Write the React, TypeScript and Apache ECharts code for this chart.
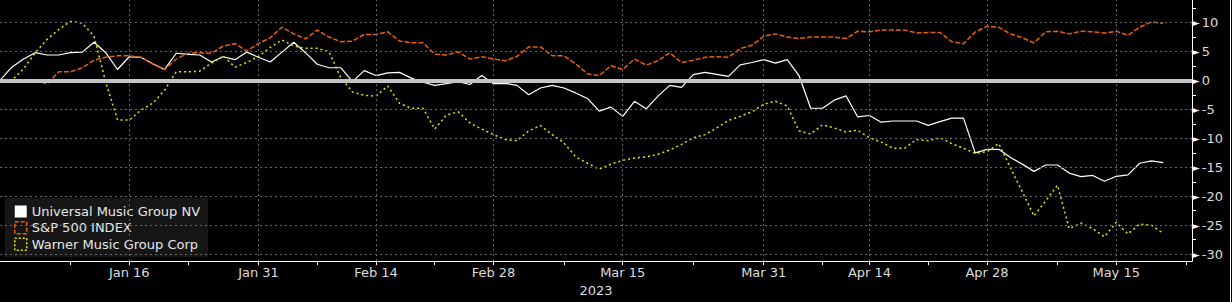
import React, { useEffect, useRef } from "react";
import * as echarts from "echarts";

// Trading days shown on the axis (weekdays, Good Friday excluded)
const dates: string[] = [
  "2022-12-30",
  "2023-01-02", "2023-01-03", "2023-01-04", "2023-01-05", "2023-01-06",
  "2023-01-09", "2023-01-10", "2023-01-11", "2023-01-12", "2023-01-13",
  "2023-01-16", "2023-01-17", "2023-01-18", "2023-01-19", "2023-01-20",
  "2023-01-23", "2023-01-24", "2023-01-25", "2023-01-26", "2023-01-27",
  "2023-01-30", "2023-01-31", "2023-02-01", "2023-02-02", "2023-02-03",
  "2023-02-06", "2023-02-07", "2023-02-08", "2023-02-09", "2023-02-10",
  "2023-02-13", "2023-02-14", "2023-02-15", "2023-02-16", "2023-02-17",
  "2023-02-20", "2023-02-21", "2023-02-22", "2023-02-23", "2023-02-24",
  "2023-02-27", "2023-02-28", "2023-03-01", "2023-03-02", "2023-03-03",
  "2023-03-06", "2023-03-07", "2023-03-08", "2023-03-09", "2023-03-10",
  "2023-03-13", "2023-03-14", "2023-03-15", "2023-03-16", "2023-03-17",
  "2023-03-20", "2023-03-21", "2023-03-22", "2023-03-23", "2023-03-24",
  "2023-03-27", "2023-03-28", "2023-03-29", "2023-03-30", "2023-03-31",
  "2023-04-03", "2023-04-04", "2023-04-05", "2023-04-06",
  "2023-04-10", "2023-04-11", "2023-04-12", "2023-04-13", "2023-04-14",
  "2023-04-17", "2023-04-18", "2023-04-19", "2023-04-20", "2023-04-21",
  "2023-04-24", "2023-04-25", "2023-04-26", "2023-04-27", "2023-04-28",
  "2023-05-01", "2023-05-02", "2023-05-03", "2023-05-04", "2023-05-05",
  "2023-05-08", "2023-05-09", "2023-05-10", "2023-05-11", "2023-05-12",
  "2023-05-15", "2023-05-16", "2023-05-17", "2023-05-18", "2023-05-19",
  "2023-05-22", "2023-05-23",
];

const seriesNames = ["Universal Music Group NV", "S&P 500 INDEX", "Warner Music Group Corp"];

// % change since start
const umg: number[] = [
  0, 2.3, 3.7, 4.8, 4.4, 4.4, 4.8, 4.9, 6.6, 4.8,
  1.9, 4.1, 4.0, 2.9, 1.9, 4.7, 4.5, 4.4, 3.2, 4.1,
  3.6, 4.9, 4.0, 3.2, 4.9, 6.6, 4.8, 2.8, 2.2, 2.2,
  -0.2, 1.7, 0.85, 1.3, 1.4, 0.4, -0.3, -0.85, -0.55, -0.2,
  -0.7, 0.85, -0.55, -0.5, -0.85, -2.45, -1.3, -0.85, -1.3, -2.15,
  -3.1, -5.3, -4.6, -6.2, -3.6, -4.9, -2.7, -0.85, -1.2, 1.0,
  1.4, 1.05, 0.7, 2.7, 3.1, 3.6, 3.0, 3.6, 0.85, -4.8,
  -4.8, -3.4, -2.65, -6.3, -6.05, -7.2, -7.0, -7.0, -7.0, -7.75,
  -7.1, -6.5, -6.5, -12.5, -11.9, -11.9, -13.3, -14.45, -15.7, -14.6,
  -14.6, -16.0, -16.6, -16.4, -17.4, -16.55, -16.3, -14.3, -13.9, -14.2,
];

const spx: number[] = [
  0, 0, -0.3, 0.1, -0.6, 1.5, 1.5, 2.2, 3.5, 4.0,
  4.25, 4.25, 4.0, 2.85, 1.9, 3.7, 4.7, 4.8, 4.7, 5.95,
  6.35, 5.1, 6.35, 7.4, 9.2, 8.05, 7.2, 8.7, 7.5, 6.7,
  6.8, 7.95, 7.95, 8.4, 6.8, 6.5, 6.5, 4.55, 4.4, 4.95,
  3.7, 4.1, 3.7, 3.4, 4.15, 5.8, 5.8, 4.25, 4.25, 2.85,
  1.15, 0.85, 2.55, 1.9, 3.7, 2.65, 3.4, 4.8, 3.1, 3.5,
  4.0, 4.1, 4.0, 5.5, 6.1, 7.65, 8.05, 7.5, 7.25, 7.5,
  7.5, 7.5, 7.25, 8.5, 8.4, 8.7, 8.7, 8.7, 8.2, 8.3,
  8.3, 6.7, 6.35, 8.35, 9.35, 9.2, 8.05, 7.4, 6.5, 8.4,
  8.5, 8.05, 8.5, 8.4, 8.2, 8.5, 7.8, 9.2, 10.1, 9.9,
];

const wmg: number[] = [
  0, 0, 2.0, 4.8, 7.1, 8.8, 10.2, 9.9, 7.65, -0.3,
  -6.8, -6.85, -5.1, -3.95, -1.7, 1.5, 1.5, 1.6, 3.0, 4.25,
  2.3, 3.1, 4.15, 5.7, 7.0, 5.95, 5.55, 5.55, 4.95, 0.5,
  -2.0, -2.55, -2.7, -0.95, -3.95, -4.8, -4.8, -8.4, -5.95, -5.4,
  -7.35, -8.4, -9.35, -10.2, -10.4, -8.7, -7.8, -9.35, -10.8, -13.2,
  -14.3, -15.3, -14.45, -13.8, -13.4, -13.2, -12.75, -12.0, -11.05, -9.9,
  -9.35, -8.2, -6.9, -6.2, -5.4, -4.1, -3.6, -4.4, -8.7, -9.25,
  -7.65, -8.2, -8.9, -8.6, -9.9, -10.65, -11.7, -11.7, -10.2, -10.4,
  -9.9, -10.9, -11.7, -12.6, -12.3, -10.9, -15.1, -19.2, -23.4, -20.8,
  -18.1, -25.6, -24.65, -25.6, -27.0, -24.5, -26.5, -24.8, -25.0, -26.4,
];

const labelDates = [
  "2023-01-16", "2023-01-31", "2023-02-14", "2023-02-28", "2023-03-15",
  "2023-03-31", "2023-04-14", "2023-04-28", "2023-05-15",
];
const minorTickDates = [
  "2023-01-09", "2023-01-23", "2023-02-07", "2023-02-21", "2023-03-08",
  "2023-03-23", "2023-04-10", "2023-04-21", "2023-05-08", "2023-05-23",
];
const yLabelValues = [-30, -25, -20, -15, -10, -5, 0, 5, 10];
const yMinorTicks = [-27.5, -22.5, -17.5, -12.5, -7.5, -2.5, 2.5, 7.5, 12.5];
const yearLabel = "2023";

const MONTHS = ["Jan", "Feb", "Mar", "Apr", "May", "Jun", "Jul", "Aug", "Sep", "Oct", "Nov", "Dec"];
const FONT = "DejaVu Sans";

function fmtDate(d: string) {
  const [, m, day] = d.split("-");
  return `${MONTHS[parseInt(m, 10) - 1]} ${parseInt(day, 10)}`;
}

export default function App() {
  const ref = useRef<HTMLDivElement>(null);
  useEffect(() => {
    document.body.style.margin = "0";
    document.body.style.background = "#000";
    if (!ref.current) return;
    const chart = echarts.init(ref.current, null, { renderer: "svg" });

    const labelIdx = labelDates.map((d) => dates.indexOf(d));
    const minorIdx = minorTickDates.map((d) => dates.indexOf(d));
    const allTicks = [...labelIdx, ...minorIdx].sort((a, b) => a - b);

    const gridData: any[] = [
      ...labelIdx.map((i) => ({ xAxis: i })),
      ...yLabelValues.filter((v) => v !== 0).map((v) => ({ yAxis: v })),
    ];

    const colors = ["#ffffff", "#e8600a", "#e6e600"];

    chart.setOption({
      animation: false,
      backgroundColor: "#000",
      textStyle: { fontFamily: FONT },
      grid: { left: 0, right: 40, top: 0, bottom: 37, containLabel: false },
      legend: {
        orient: "vertical",
        left: 5,
        top: 198,
        padding: [7, 8, 6, 9],
        itemGap: 3,
        itemWidth: 12,
        itemHeight: 12,
        backgroundColor: "#161616",
        textStyle: { color: "#e6e6e6", fontSize: 13, fontFamily: FONT },
        data: [
          { name: seriesNames[0], icon: "rect", itemStyle: { color: "#ffffff", borderWidth: 0 } },
          {
            name: seriesNames[1],
            icon: "rect",
            itemStyle: { color: "rgba(0,0,0,0)", borderColor: colors[1], borderWidth: 1.5, borderType: [4, 2] },
          },
          {
            name: seriesNames[2],
            icon: "rect",
            itemStyle: { color: "rgba(0,0,0,0)", borderColor: colors[2], borderWidth: 1.5, borderType: [2, 2] },
          },
        ],
      },
      xAxis: {
        type: "value",
        min: 0,
        max: 101.45,
        axisLine: { show: true, onZero: false, lineStyle: { color: "#ffffff", width: 1 } },
        axisTick: { show: true, customValues: allTicks, length: 4, lineStyle: { color: "#ffffff" } },
        axisLabel: {
          customValues: labelIdx,
          formatter: (v: number) => (dates[Math.round(v)] ? fmtDate(dates[Math.round(v)]) : ""),
          color: "#dcdcdc",
          fontSize: 13,
          fontFamily: FONT,
          margin: 5,
        },
        splitLine: { show: false },
        name: yearLabel,
        nameLocation: "middle",
        nameGap: 22,
        nameTextStyle: { color: "#dcdcdc", fontSize: 13, fontFamily: FONT },
      },
      yAxis: {
        type: "value",
        position: "right",
        min: -31.2,
        max: 13.9,
        axisLine: { show: true, onZero: false, lineStyle: { color: "#ffffff", width: 1 } },
        axisTick: { show: true, customValues: yMinorTicks, length: 4, inside: false, lineStyle: { color: "#ffffff" } },
        axisLabel: {
          customValues: yLabelValues,
          margin: 0,
          formatter: (v: number) => `{t|►}{v|${v}}`,
          rich: {
            t: { color: "#ffffff", fontSize: 10, fontFamily: FONT, padding: [0, 2, 0, 0] },
            v: { color: "#dcdcdc", fontSize: 13, fontFamily: FONT },
          },
        },
        splitLine: { show: false },
      },
      graphic: [
        {
          type: "line",
          shape: { x1: 1230.5, y1: 0, x2: 1230.5, y2: 302 },
          style: { stroke: "#ffffff", lineWidth: 1 },
          silent: true,
        },
      ],
      series: [
        {
          name: "grid",
          type: "line",
          data: [],
          z: 1,
          silent: true,
          markLine: {
            silent: true,
            symbol: ["none", "none"],
            label: { show: false },
            lineStyle: { color: "#6a6a6a", type: [2, 3], width: 1 },
            emphasis: { disabled: true },
            data: gridData,
          },
        },
        {
          name: seriesNames[0],
          type: "line",
          data: umg.map((v, i) => [i, v]),
          showSymbol: false,
          z: 3,
          lineStyle: { color: colors[0], width: 1.2 },
          itemStyle: { color: colors[0] },
        },
        {
          name: seriesNames[1],
          type: "line",
          data: spx.map((v, i) => [i, v]),
          showSymbol: false,
          z: 3,
          lineStyle: { color: colors[1], width: 1.5, type: [5, 2] },
          itemStyle: { color: colors[1] },
        },
        {
          name: seriesNames[2],
          type: "line",
          data: wmg.map((v, i) => [i, v]),
          showSymbol: false,
          z: 3,
          lineStyle: { color: colors[2], width: 1.5, type: [2, 3] },
          itemStyle: { color: colors[2] },
        },
        {
          name: "zero",
          type: "line",
          data: [],
          z: 6,
          silent: true,
          markLine: {
            silent: true,
            symbol: ["none", "none"],
            label: { show: false },
            lineStyle: { color: "#c4c4c4", type: "solid", width: 4 },
            emphasis: { disabled: true },
            data: [{ yAxis: 0 }],
          },
        },
      ],
    });
    return () => chart.dispose();
  }, []);

  return (
    <div
      ref={ref}
      style={{ position: "absolute", left: 0, top: 0, width: 1232, height: 302, background: "#000" }}
    />
  );
}
